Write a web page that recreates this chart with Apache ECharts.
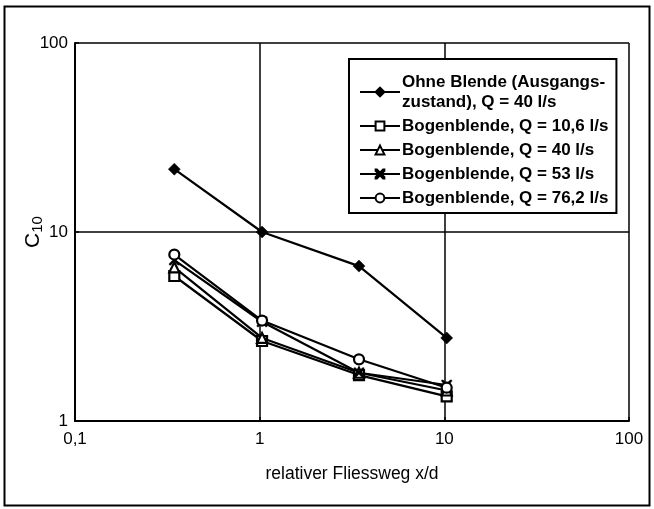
<!DOCTYPE html>
<html><head><meta charset="utf-8">
<script src="https://cdn.jsdelivr.net/npm/echarts@6/dist/echarts.min.js"></script>
<style>html,body{margin:0;padding:0;background:#fff}#c{width:654px;height:509px}</style>
</head><body><div id="c"></div>
<script>
const xTickLabels = {0.1: '0,1', 1: '1', 10: '10', 100: '100'};
const seriesNames = [
  'Ohne Blende (Ausgangs-\nzustand), Q = 40 l/s',
  'Bogenblende, Q = 10,6 l/s',
  'Bogenblende, Q = 40 l/s',
  'Bogenblende, Q = 53 l/s',
  'Bogenblende, Q = 76,2 l/s'
];
const xOhne = [0.345, 1.03, 3.45, 10.3];
const yOhne = [21.5, 10.0, 6.6, 2.75];
const xBogen = [0.345, 1.03, 3.45, 10.3];
const yQ106 = [5.85, 2.65, 1.75, 1.35];
const yQ40 = [6.5, 2.75, 1.8, 1.45];
const yQ53 = [7.1, 3.35, 1.8, 1.55];
const yQ762 = [7.6, 3.4, 2.12, 1.5];

const FONT = 'Liberation Sans, sans-serif';
const crossPath = 'path://M0,0 L1.5,0 L5,3.5 L8.5,0 L10,0 L10,1.5 L6.5,5 L10,8.5 L10,10 L8.5,10 L5,6.5 L1.5,10 L0,10 L0,8.5 L3.5,5 L0,1.5 Z';
const symbols = ['diamond', 'rect', 'triangle', crossPath, 'circle'];
const symbolSizes = [12, 10, 10, 10, 10];
const fills = ['#000', '#fff', '#fff', '#000', '#fff'];
const ys = [yOhne, yQ106, yQ40, yQ53, yQ762];
const xs = [xOhne, xBogen, xBogen, xBogen, xBogen];

const chart = echarts.init(document.getElementById('c'));
const series = seriesNames.map((n, i) => ({
  name: n,
  type: 'line',
  data: xs[i].map((x, j) => [x, ys[i][j]]),
  symbol: symbols[i],
  symbolSize: symbolSizes[i],
  showSymbol: true,
  lineStyle: {color: '#000', width: 2.2},
  itemStyle: {color: fills[i], borderColor: '#000', borderWidth: (i === 0 || i === 3) ? 0.5 : 2.2},
  emphasis: {disabled: true},
  z: 3
}));

chart.setOption({
  animation: false,
  backgroundColor: '#fff',
  textStyle: {fontFamily: FONT, color: '#000'},
  grid: {left: 75, right: 25, top: 43, bottom: 88, containLabel: false},
  graphic: [{type: 'rect', shape: {x: 4.5, y: 6.5, width: 645, height: 499}, style: {fill: 'none', stroke: '#000', lineWidth: 2}, silent: true}],
  legend: {
    orient: 'vertical', left: 349, top: 59,
    padding: [13, 8, 5, 10], itemGap: 4,
    itemWidth: 40, itemHeight: 11,
    backgroundColor: '#fff', borderColor: '#000', borderWidth: 2,
    textStyle: {fontFamily: FONT, fontSize: 17, fontWeight: 'bold', color: '#000', lineHeight: 20, padding: [0,0,0,-3]},
    data: seriesNames,
    z: 10
  },
  xAxis: {
    type: 'log', logBase: 10, min: 0.1, max: 100,
    name: 'relativer Fliessweg x/d', nameLocation: 'middle', nameGap: 44,
    nameMoveOverlap: false,
    nameTextStyle: {fontSize: 17.5, color: '#000', fontFamily: FONT},
    axisLine: {lineStyle: {color: '#000', width: 2}},
    axisTick: {show: true, inside: true, length: 4, lineStyle: {color: '#000', width: 1.5}},
    axisLabel: {fontSize: 17, color: '#000', margin: 10, formatter: v => xTickLabels[v] !== undefined ? xTickLabels[v] : (xTickLabels[+(+v).toPrecision(3)] || '')},
    splitLine: {show: true, lineStyle: {color: '#000', width: 1.5}},
    minorTick: {show: false}
  },
  yAxis: {
    type: 'log', logBase: 10, min: 1, max: 100,
    name: '{c|C}{s|10}', nameLocation: 'middle', nameGap: 30, nameRotate: 90,
    nameMoveOverlap: false,
    nameTextStyle: {rich: {c: {fontSize: 21, color: '#000', fontFamily: FONT}, s: {fontSize: 15, color: '#000', fontFamily: FONT, padding: [9,0,0,0]}}},
    axisLine: {lineStyle: {color: '#000', width: 2}},
    axisTick: {show: true, inside: true, length: 4, lineStyle: {color: '#000', width: 1.5}},
    axisLabel: {fontSize: 17, color: '#000', margin: 7},
    splitLine: {show: true, lineStyle: {color: '#000', width: 1.5}}
  },
  series: series
});
</script>
</body></html>
